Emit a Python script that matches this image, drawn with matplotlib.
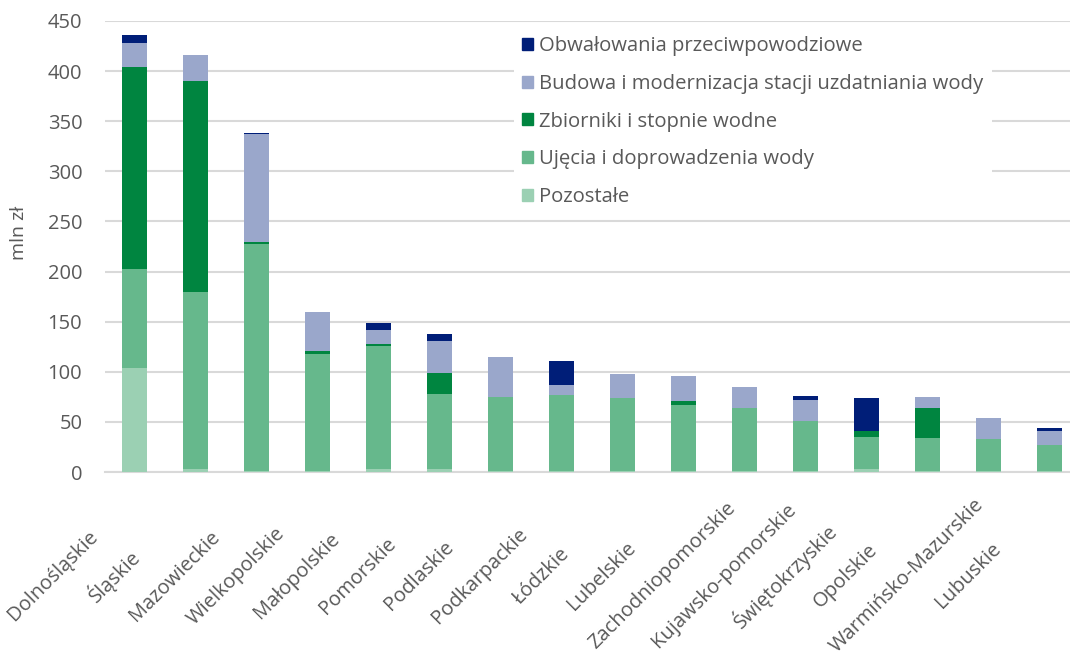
import matplotlib.pyplot as plt
import matplotlib.transforms as mtransforms
from matplotlib.patches import Patch
import numpy as np

plt.rcParams['font.family'] = ['Open Sans', 'DejaVu Sans']

regions = ["Dolnośląskie", "Śląskie", "Mazowieckie", "Wielkopolskie", "Małopolskie",
           "Pomorskie", "Podlaskie", "Podkarpackie", "Łódzkie", "Lubelskie",
           "Zachodniopomorskie", "Kujawsko-pomorskie", "Świętokrzyskie", "Opolskie",
           "Warmińsko-Mazurskie", "Lubuskie"]

# mln zł, stacked bottom -> top
pozostale = [104, 3, 0.5, 1, 3, 3, 0.5, 0.5, 1, 1, 1, 1, 3, 0.5, 0.5, 0.5]
ujecia = [99, 177, 227, 117, 123, 75, 74, 76, 73, 66, 63, 50, 32, 33, 32, 26.5]
zbiorniki = [201, 210, 1.5, 3, 1.5, 21, 0, 0, 0, 4, 0, 0, 6, 30, 0, 0]
budowa = [24, 26, 108, 39, 14.5, 32, 40, 10, 24, 25, 21, 21, 0, 11, 21, 13.5]
obwalowania = [8, 0.5, 1.5, 0, 6.5, 7, 0, 24, 0, 0, 0, 4, 33, 0, 0, 3.5]

series = [
    ("Pozostałe", pozostale, "#9BD0B3"),
    ("Ujęcia i doprowadzenia wody", ujecia, "#66B88C"),
    ("Zbiorniki i stopnie wodne", zbiorniki, "#008540"),
    ("Budowa i modernizacja stacji uzdatniania wody", budowa, "#9AA7CB"),
    ("Obwałowania przeciwpowodziowe", obwalowania, "#001E78"),
]

text_col = "#595959"
grid_col = "#D9D9D9"

fig = plt.figure(figsize=(10.7, 6.57), dpi=100)
ax = fig.add_axes([104.5 / 1070, (657 - 472) / 657, (1070 - 104.5) / 1070, (472 - 21) / 657])

x = np.arange(len(regions))
bottom = np.zeros(len(regions))
for name, vals, col in series:
    vals = np.array(vals, dtype=float)
    ax.bar(x, vals, 0.41, bottom=bottom, color=col, label=name, zorder=3)
    bottom += vals

ax.set_ylim(0, 450)
ax.set_xlim(-0.5, 15.33)
ax.set_yticks(np.arange(0, 451, 50))
ax.yaxis.grid(True, color=grid_col, lw=1.5, zorder=0)
ax.set_axisbelow(True)
for s in ["left", "right", "top"]:
    ax.spines[s].set_visible(False)
ax.spines["bottom"].set_color(grid_col)
ax.spines["bottom"].set_linewidth(1.5)
ax.tick_params(axis="y", length=0, pad=16, labelsize=14.5, labelcolor=text_col)
ax.tick_params(axis="x", length=0)
ax.set_xticks(x)
ax.set_xticklabels([])

# rotated category labels, centred below-left of each bar
lab_tr = mtransforms.offset_copy(ax.get_xaxis_transform(), fig=fig, x=-82, y=-104, units="dots")
for i, r in enumerate(regions):
    ax.text(i, 0, r, transform=lab_tr, rotation=45, ha="center", va="center",
            rotation_mode="anchor", fontsize=14.5, color=text_col)

fig.text(19 / 1070, 1 - 233 / 657, "mln zł", rotation=90, ha="center", va="center",
         fontsize=14, color=text_col)

handles = [Patch(color=c, label=n) for n, v, c in series[::-1]]
leg = ax.legend(handles=handles, loc="upper left", bbox_to_anchor=(504 / 1070, 1 - 18 / 657),
                bbox_transform=fig.transFigure, frameon=True, fontsize=14.6,
                handlelength=0.55, handleheight=0.55, handletextpad=0.3,
                labelspacing=0.87, borderpad=0.4, labelcolor=text_col)
leg.get_frame().set_facecolor("white")
leg.get_frame().set_edgecolor("none")
leg.get_frame().set_alpha(1)
leg.set_zorder(5)

fig.savefig("out.png", dpi=100)
